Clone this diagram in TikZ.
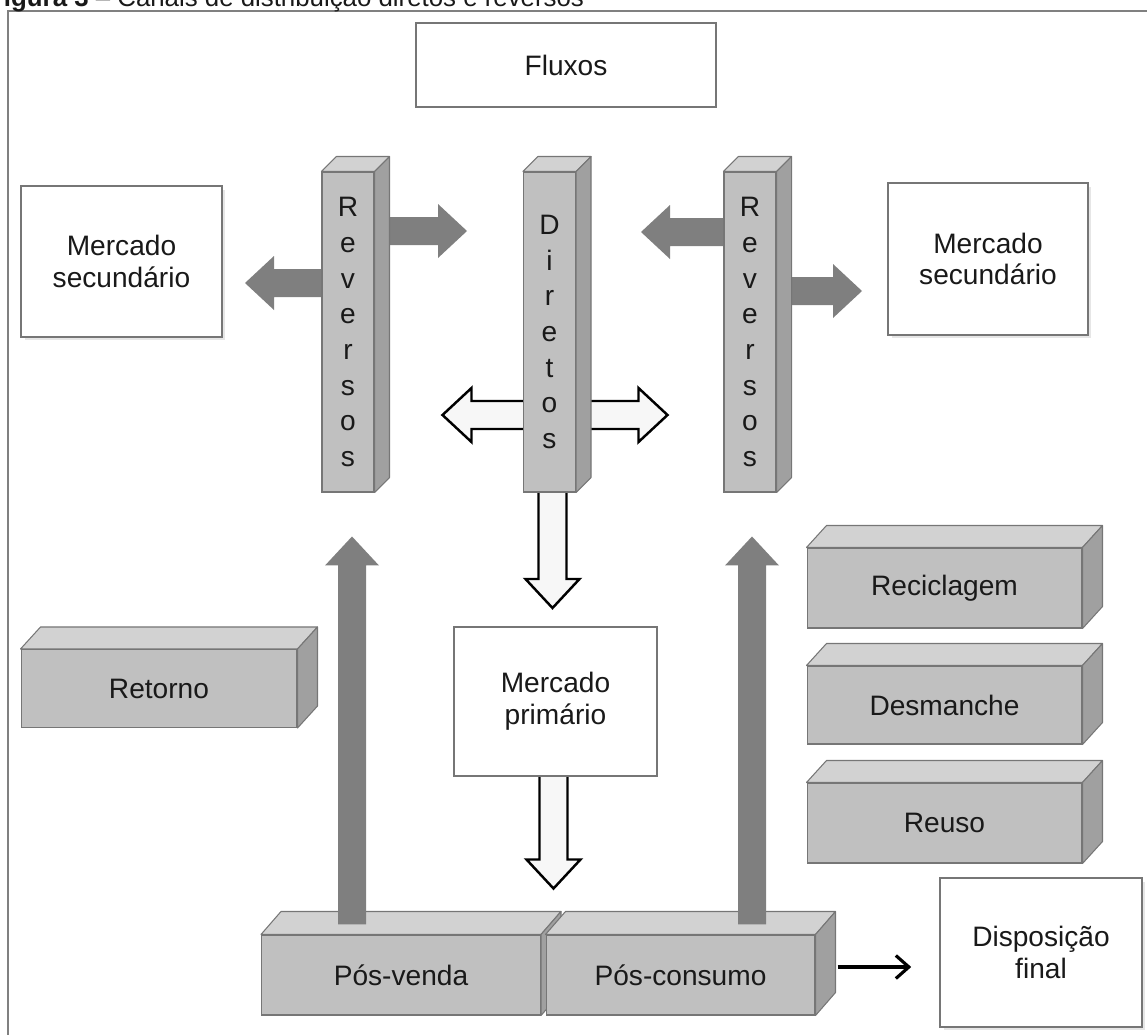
\documentclass[tikz,border=0pt]{standalone}
\usepackage{fontspec}
\setmainfont{Liberation Sans}
\usetikzlibrary{arrows.meta,calc,backgrounds,shadows}
\definecolor{frameGray}{RGB}{128,128,128}
\definecolor{faceGray}{RGB}{192,192,192}
\definecolor{topGray}{RGB}{210,210,210}
\definecolor{sideGray}{RGB}{160,160,160}
\definecolor{edgeGray}{RGB}{118,118,118}
\definecolor{arrowGray}{RGB}{127,127,127}
\definecolor{inkBlack}{RGB}{25,25,25}
\tikzset{
  label box/.style={draw=edgeGray,fill=white,line width=0.9pt,align=center,text=inkBlack,font=\fontsize{16}{18}\selectfont},
  shadow box/.style={label box,drop shadow={opacity=0.2,shadow xshift=0.07cm,shadow yshift=-0.07cm}},
  block/.style={draw=edgeGray,fill=faceGray,line width=0.6pt,align=center,text=inkBlack,font=\fontsize{16}{18}\selectfont,inner sep=0pt},
  pillar/.style={block,minimum width=1.04cm,minimum height=6.4cm,font=\fontsize{16}{20.3}\selectfont},
  top face/.style={draw=edgeGray,fill=topGray,line width=0.6pt,line join=round},
  side face/.style={draw=edgeGray,fill=sideGray,line width=0.6pt,line join=round},
  gray arrow/.style={fill=arrowGray,draw=none},
  hollow arrow/.style={fill=gray!6,draw=black,line width=1.4pt,line join=miter},
  line arrow/.style={-{Straight Barb[length=2.6mm,width=4.6mm,line width=1.8pt]},line width=1.8pt,draw=black}
}
% faces of a 3D block: node, depth x, depth y
\newcommand{\boxfaces}[3]{%
  \filldraw[top face] (#1.north west) -- ++(#2,-#3) -- ($(#1.north east)+(#2,-#3)$) -- (#1.north east) -- cycle;
  \filldraw[side face] (#1.north east) -- ++(#2,-#3) -- ($(#1.south east)+(#2,-#3)$) -- (#1.south east) -- cycle;}
% block arrow: style, start, angle, length
\newcommand{\fatarrow}[4]{%
  \filldraw[#1,shift={(#2)},rotate=#3] (0,-14) -- (#4-29,-14) -- (#4-29,-27) -- (#4,0) -- (#4-29,27) -- (#4-29,14) -- (0,14) -- cycle;}

\begin{document}
\begin{tikzpicture}[x=0.02cm,y=-0.02cm]
  \useasboundingbox (0,0) rectangle (1147,1035);
  \draw[frameGray,line width=0.8pt] (8,1040) -- (8,11) -- (1150,11);
  \node[anchor=base west,font=\fontsize{14.7}{16}\selectfont,text=inkBlack] (caption) at (-18,6) {\textbf{Figura 3} – Canais de distribuição diretos e reversos};

  \node[label box,minimum width=6cm,minimum height=1.68cm] (fluxos) at (566,65) {Fluxos};
  \node[shadow box,minimum width=4.02cm,minimum height=3.02cm] (mercSecL) at (121.5,261.5) {Mercado\\secundário};
  \node[shadow box,minimum width=4cm,minimum height=3.04cm] (mercSecR) at (988,259) {Mercado\\secundário};
  \node[label box,line width=0.6pt,minimum width=4.06cm,minimum height=2.98cm] (mercPrim) at (555.5,701.5) {Mercado\\primário};
  \node[shadow box,minimum width=4.04cm,minimum height=2.98cm] (disp) at (1041,952.5) {Disposição\\final};

  % colunas
  \node[pillar] (revL) at (348,332) {R\\e\\v\\e\\r\\s\\o\\s};
  \boxfaces{revL}{15}{15}
  \node[pillar] (dir) at (549.5,332) {D\\i\\r\\e\\t\\o\\s};
  \boxfaces{dir}{15}{15}
  \node[pillar] (revR) at (750,332) {R\\e\\v\\e\\r\\s\\o\\s};
  \boxfaces{revR}{15}{15}

  % blocos
  \node[block,minimum width=5.52cm,minimum height=1.56cm] (retorno) at (159,688.5) {Retorno};
  \boxfaces{retorno}{20}{22}
  \node[block,minimum width=5.5cm,minimum height=1.6cm] (recic) at (944.5,588) {Reciclagem};
  \boxfaces{recic}{20}{22}
  \node[block,minimum width=5.5cm,minimum height=1.56cm] (desm) at (944.5,705) {Desmanche};
  \boxfaces{desm}{20}{22}
  \node[block,minimum width=5.5cm,minimum height=1.6cm] (reuso) at (944.5,823) {Reuso};
  \boxfaces{reuso}{20}{22}
  \node[block,minimum width=5.58cm,minimum height=1.6cm] (posVenda) at (401,975) {Pós-venda};
  \boxfaces{posVenda}{20}{23}
  \node[block,minimum width=5.38cm,minimum height=1.6cm] (posCons) at (680.5,975) {Pós-consumo};
  \boxfaces{posCons}{20}{23}

  \begin{scope}[on background layer]
    \fatarrow{gray arrow}{$(revL)+(0,-101)$}{0}{119}
    \fatarrow{gray arrow}{$(revL)+(0,-49)$}{180}{103}
    \fatarrow{gray arrow}{$(revR)+(0,-100)$}{180}{109}
    \fatarrow{gray arrow}{$(revR)+(0,-41)$}{0}{112}
    \fatarrow{hollow arrow}{$(dir)+(0,83)$}{180}{107}
    \fatarrow{hollow arrow}{$(dir)+(0,83)$}{0}{118}
    \fatarrow{hollow arrow}{$(dir)+(3,0)$}{270}{276}
    \fatarrow{hollow arrow}{$(mercPrim)+(-2,0)$}{270}{187}
  \end{scope}
  \fatarrow{gray arrow}{$(posVenda.north)+(-49,-10)$}{90}{388}
  \fatarrow{gray arrow}{$(posCons.north)+(71.5,-10)$}{90}{388}

  \coordinate (consOut) at ($(posCons.east)+(22,-8)$);
  \draw[line arrow,shorten >=0.56cm] (consOut) -- (consOut -| disp.west);
\end{tikzpicture}
\end{document}
